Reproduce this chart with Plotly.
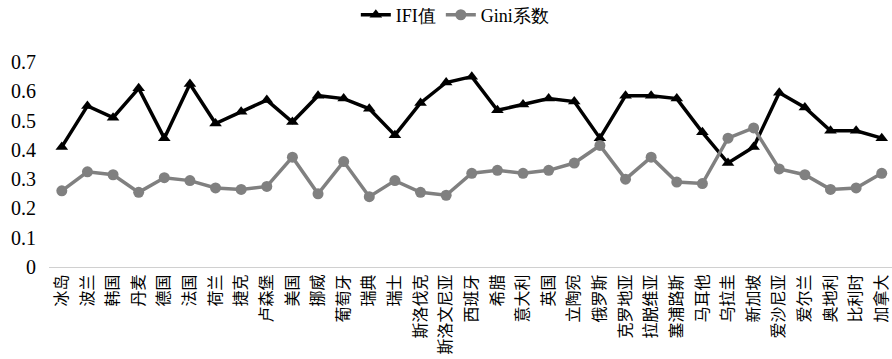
import plotly.graph_objects as go

categories = ["冰岛", "波兰", "韩国", "丹麦", "德国", "法国", "荷兰", "捷克", "卢森堡", "美国",
              "挪威", "葡萄牙", "瑞典", "瑞士", "斯洛伐克", "斯洛文尼亚", "西班牙", "希腊", "意大利",
              "英国", "立陶宛", "俄罗斯", "克罗地亚", "拉脱维亚", "塞浦路斯", "马耳他", "乌拉圭",
              "新加坡", "爱沙尼亚", "爱尔兰", "奥地利", "比利时", "加拿大"]

ifi = [0.41, 0.55, 0.51, 0.61, 0.44, 0.625, 0.49, 0.53, 0.57, 0.495,
       0.585, 0.575, 0.54, 0.45, 0.56, 0.63, 0.65, 0.535, 0.555,
       0.575, 0.565, 0.44, 0.585, 0.585, 0.575, 0.46, 0.355,
       0.41, 0.595, 0.545, 0.465, 0.465, 0.44]

gini = [0.26, 0.325, 0.315, 0.255, 0.305, 0.295, 0.27, 0.265, 0.275, 0.375,
        0.25, 0.36, 0.24, 0.295, 0.255, 0.245, 0.32, 0.33, 0.32,
        0.33, 0.355, 0.415, 0.30, 0.375, 0.29, 0.285, 0.44,
        0.475, 0.335, 0.315, 0.265, 0.27, 0.32]

y_ticks = [0, 0.1, 0.2, 0.3, 0.4, 0.5, 0.6, 0.7]
y_ticktext = ["0", "0.1", "0.2", "0.3", "0.4", "0.5", "0.6", "0.7"]

serif = "Liberation Serif"
cjk = "Noto Sans CJK SC"

fig = go.Figure()
fig.add_trace(go.Scatter(
    x=categories, y=ifi, name="IFI值", mode="lines+markers",
    line=dict(color="#000000", width=3.5),
    marker=dict(symbol="triangle-up", size=11, color="#000000"),
))
fig.add_trace(go.Scatter(
    x=categories, y=gini, name="Gini系数", mode="lines+markers",
    line=dict(color="#808080", width=3.5),
    marker=dict(symbol="circle", size=11, color="#808080"),
))

fig.update_layout(
    width=892, height=359,
    margin=dict(l=49, r=0, t=62, b=92, autoexpand=False),
    paper_bgcolor="white", plot_bgcolor="white",
    showlegend=True,
    legend=dict(orientation="h", x=0.482, xanchor="center", y=1.229, yanchor="middle",
                yref="paper", font=dict(family=serif, size=18, color="#000"),
                traceorder="normal"),
    xaxis=dict(
        type="category", range=[-0.5, 32.4], automargin=False,
        tickangle=-90, tickfont=dict(family=cjk, size=16, color="#000"),
        showgrid=False, showline=True, linecolor="#d0d0d0", linewidth=1,
        ticks="", zeroline=False,
    ),
    yaxis=dict(
        range=[0, 0.7], tickvals=y_ticks, ticktext=y_ticktext, automargin=False,
        tickfont=dict(family=serif, size=20, color="#000"), ticklabelstandoff=12,
        showgrid=False, showline=False, zeroline=False, ticks="",
    ),
)

fig.write_html("out.html", config={"displayModeBar": False},
               post_script="document.body.style.margin='0';document.body.style.overflow='hidden';")
